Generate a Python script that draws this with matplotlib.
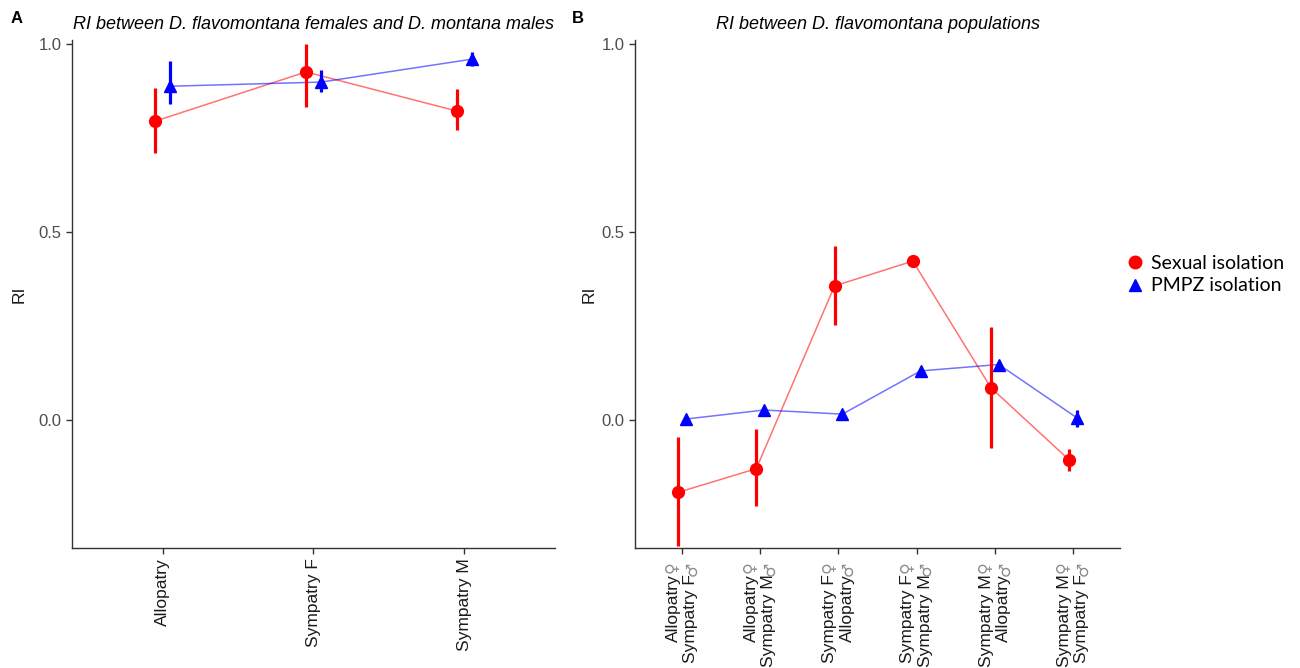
import matplotlib
matplotlib.use("Agg")
import matplotlib.pyplot as plt
import numpy as np
from matplotlib.lines import Line2D

plt.rcParams['font.family'] = ['Liberation Sans', 'DejaVu Sans']

# panel A: D. flavomontana females x D. montana males
cats_a = ["Allopatry", "Sympatry F", "Sympatry M"]
sex_a = [0.795, 0.926, 0.822]
sex_a_lo = [0.710, 0.832, 0.771]
sex_a_hi = [0.883, 1.000, 0.880]
pmpz_a = [0.888, 0.899, 0.960]
pmpz_a_lo = [0.840, 0.872, 0.941]
pmpz_a_hi = [0.955, 0.931, 0.979]

# panel B: between D. flavomontana populations (female line first, male second)
cats_b = ["Allopatry\nSympatry F", "Allopatry\nSympatry M",
          "Sympatry F\nAllopatry", "Sympatry F\nSympatry M",
          "Sympatry M\nAllopatry", "Sympatry M\nSympatry F"]
sex_b = [-0.192, -0.129, 0.357, 0.423, 0.086, -0.106]
sex_b_lo = [-0.335, -0.229, 0.254, 0.418, -0.073, -0.136]
sex_b_hi = [-0.046, -0.024, 0.463, 0.428, 0.248, -0.077]
pmpz_b = [0.003, 0.027, 0.016, 0.131, 0.148, 0.006]
pmpz_b_lo = [-0.003, 0.021, 0.011, 0.126, 0.142, -0.018]
pmpz_b_hi = [0.009, 0.033, 0.021, 0.136, 0.154, 0.027]

RED = "#ff0000"
BLUE = "#0000ff"
DODGE = 0.05


def draw_panel(ax, cats, sex, sex_lo, sex_hi, pmpz, pmpz_lo, pmpz_hi, title, xpad=3.5):
    x = np.arange(1, len(cats) + 1)
    for vals, lo, hi, col, mk, off in [(sex, sex_lo, sex_hi, RED, "o", -DODGE),
                                       (pmpz, pmpz_lo, pmpz_hi, BLUE, "^", DODGE)]:
        xs = x + off
        ax.plot(xs, vals, color=col, lw=1.1, alpha=0.55, zorder=2)
        ax.vlines(xs, lo, hi, color=col, lw=2.3, zorder=3)
        ax.plot(xs, vals, ls="none", marker=mk, ms=8.5, color=col, mec=col, zorder=4)
    ax.set_xlim(0.4, len(cats) + 0.6)
    ax.set_ylim(-0.34, 1.01)
    ax.set_yticks([0.0, 0.5, 1.0])
    ax.set_yticklabels(["0.0", "0.5", "1.0"])
    ax.set_xticks(x)
    ax.set_xticklabels(cats, rotation=90, ha="center", va="top", multialignment="right")
    ax.spines["top"].set_visible(False)
    ax.spines["right"].set_visible(False)
    for s in ["left", "bottom"]:
        ax.spines[s].set_color("#333333")
        ax.spines[s].set_linewidth(1.0)
    ax.tick_params(colors="#333333", labelsize=12, length=4, width=1.0)
    ax.tick_params(axis="y", labelcolor="#4d4d4d")
    ax.tick_params(axis="x", labelcolor="#1a1a1a", labelsize=12.5, pad=xpad)
    ax.set_ylabel("RI", fontsize=12.5, color="#1a1a1a")
    ax.set_title(title, fontsize=13, style="italic", pad=8)
    return x


fig = plt.figure(figsize=(13, 6.68), dpi=100)
ax_a = fig.add_axes([0.0554, 0.1796, 0.3715, 0.760])
ax_b = fig.add_axes([0.4885, 0.1796, 0.3731, 0.760])

draw_panel(ax_a, cats_a, sex_a, sex_a_lo, sex_a_hi, pmpz_a, pmpz_a_lo, pmpz_a_hi,
           "RI between D. flavomontana females and D. montana males")
xb = draw_panel(ax_b, cats_b, sex_b, sex_b_lo, sex_b_hi, pmpz_b, pmpz_b_lo, pmpz_b_hi,
                "RI between D. flavomontana populations", xpad=15)
ax_a.yaxis.set_label_coords(-0.095, 0.5)
ax_b.yaxis.set_label_coords(-0.08, 0.5)

# grey sex symbols at the end of each two-line label
for xi in xb:
    for sym, dx in [("\u2640", -7.0), ("\u2642", 7.0)]:
        ax_b.annotate(sym, xy=(xi, 0), xycoords=("data", "axes fraction"),
                      xytext=(dx, -9.5), textcoords="offset points", rotation=90,
                      ha="center", va="top", fontsize=11.5, color="#8c8c8c",
                      family="DejaVu Sans", annotation_clip=False)

fig.text(0.008, 0.965, "A", fontsize=12, fontweight="bold")
fig.text(0.44, 0.965, "B", fontsize=12, fontweight="bold")

handles = [Line2D([], [], ls="none", marker="o", ms=9, color=RED),
           Line2D([], [], ls="none", marker="^", ms=9, color=BLUE)]
leg = fig.legend(handles, ["Sexual isolation", "PMPZ isolation"], loc="center left",
                 bbox_to_anchor=(0.851, 0.589), frameon=False, handletextpad=0.2,
                 labelspacing=0.3, handlelength=1.2,
                 prop={"family": "Lato", "size": 14})

fig.savefig("out.png", dpi=100)
